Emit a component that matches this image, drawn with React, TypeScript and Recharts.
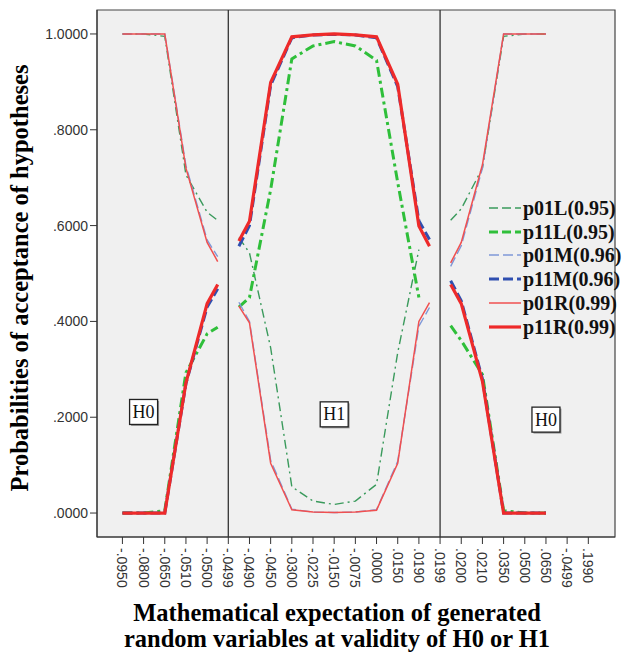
import React from "react";
import {
  LineChart,
  Line,
  XAxis,
  YAxis,
  ReferenceLine,
  ReferenceArea,
  ReferenceDot,
  Label,
} from "recharts";

// Category tick labels of the x axis (index = category position)
const categories = [
  "-.0950", "-.0800", "-.0650", "-.0510", "-.0500", "-.0499", "-.0490", "-.0450",
  "-.0300", "-.0225", "-.0150", "-.0075", ".0000", ".0150", ".0190", ".0199",
  ".0200", ".0210", ".0350", ".0500", ".0650", "-.0499", ".1990",
];

// Category positions of the plotted vertices (half steps are the line ends next to the H0/H1 borders)
const positions = [0, 1, 2, 3, 4, 4.5, 5, 5.5, 6, 7, 8, 9, 10, 11, 12, 13, 14, 14.5, 15, 15.5, 16, 17, 18, 19, 20];

const p01L = [1, 1, 0.995, 0.706, 0.628, 0.611, null, 0.575, 0.543, 0.345, 0.055, 0.025, 0.018, 0.025, 0.06, 0.335, 0.55, null, null, 0.611, 0.635, 0.72, 0.995, 1, 1];
const p11L = [0, 0, 0.005, 0.293, 0.374, 0.388, null, 0.43, 0.45, 0.675, 0.948, 0.975, 0.984, 0.975, 0.945, 0.69, 0.45, null, null, 0.391, 0.36, 0.289, 0.005, 0, 0];
const p01M = [1, 1, 1, 0.725, 0.57, 0.535, null, 0.44, 0.4, 0.11, 0.008, 0.002, 0.001, 0.002, 0.007, 0.108, 0.39, 0.429, null, 0.515, 0.558, 0.72, 1, 1, 1];
const p11M = [0, 0, 0, 0.27, 0.43, 0.468, null, 0.557, 0.6, 0.893, 0.992, 0.998, 0.999, 0.998, 0.992, 0.89, 0.61, 0.571, null, 0.485, 0.443, 0.28, 0, 0, 0];
const p01R = [1, 1, 1, 0.72, 0.565, 0.525, null, 0.432, 0.397, 0.104, 0.007, 0.002, 0.001, 0.002, 0.006, 0.104, 0.4, 0.439, null, 0.522, 0.565, 0.727, 1, 1, 1];
const p11R = [0, 0, 0, 0.272, 0.437, 0.477, null, 0.568, 0.609, 0.899, 0.994, 0.998, 1.0, 0.998, 0.994, 0.895, 0.599, 0.557, null, 0.477, 0.437, 0.275, 0, 0, 0];

const yTicks = [0, 0.2, 0.4, 0.6, 0.8, 1.0];
const borderPositions = [5, 15];
const regionLabels = [
  { text: "H0", x: 1, y: 0.211 },
  { text: "H1", x: 10, y: 0.206 },
  { text: "H0", x: 20, y: 0.195 },
];

const series = [
  { key: "p01L", name: "p01L(0.95)", color: "#3a9a5c", width: 1.4, dash: "9 4 2 4", legendDash: "9 4" },
  { key: "p11L", name: "p11L(0.95)", color: "#2fbf3a", width: 3, dash: "10 4 3 4", legendDash: "9 4" },
  { key: "p01M", name: "p01M(0.96)", color: "#7f98d8", width: 1.4, dash: "10 4", legendDash: "10 4" },
  { key: "p11M", name: "p11M(0.96)", color: "#2f4fb0", width: 3, dash: "10 4", legendDash: "10 4" },
  { key: "p01R", name: "p01R(0.99)", color: "#f05050", width: 1.5, dash: undefined, legendDash: undefined },
  { key: "p11R", name: "p11R(0.99)", color: "#ee2a2a", width: 3.2, dash: undefined, legendDash: undefined },
];

const data = positions.map((x, i) => ({
  x,
  p01L: p01L[i],
  p11L: p11L[i],
  p01M: p01M[i],
  p11M: p11M[i],
  p01R: p01R[i],
  p11R: p11R[i],
}));

const X_MIN = -1.2;
const X_MAX = 23.26;
const Y_MIN = -0.05;
const Y_MAX = 1.05;

const SERIF = "Liberation Serif, Times New Roman, serif";
const SANS = "Liberation Sans, Arial, sans-serif";

const fmtY = (v: number) => (v >= 1 ? v.toFixed(4) : v.toFixed(4).replace(/^0/, ""));

const XTick = (props: any) => {
  const { x, y, payload } = props;
  const label = categories[payload.value];
  return (
    <text
      x={x}
      y={y}
      transform={`rotate(90, ${x}, ${y})`}
      textAnchor="start"
      dominantBaseline="central"
      fontFamily={SANS}
      fontSize={14}
      fill="#333"
    >
      {label}
    </text>
  );
};

const BoxLabel = (text: string) => (props: any) => {
  const { cx, cy } = props;
  if (cx == null || cy == null) return null;
  const w = 28;
  const h = 25;
  return (
    <g>
      <rect x={cx - w / 2 + 1.5} y={cy - h / 2 + 1.5} width={w} height={h} fill="#9a9a9a" />
      <rect x={cx - w / 2} y={cy - h / 2} width={w} height={h} fill="#ffffff" stroke="#222" strokeWidth={1.3} />
      <text x={cx} y={cy + 6} textAnchor="middle" fontFamily={SERIF} fontSize={18} fill="#111">
        {text}
      </text>
    </g>
  );
};

const XTitle = () => (
  <g>
    <text x={337} y={621} textAnchor="middle" fontFamily={SERIF} fontWeight="bold" fontSize={24.5} fill="#000">
      Mathematical expectation of generated
    </text>
    <text x={337} y={647} textAnchor="middle" fontFamily={SERIF} fontWeight="bold" fontSize={24.5} fill="#000">
      random variables at validity of H0 or H1
    </text>
  </g>
);

const YTitle = () => (
  <text
    x={28}
    y={278}
    transform="rotate(-90, 28, 278)"
    textAnchor="middle"
    fontFamily={SERIF}
    fontWeight="bold"
    fontSize={24.5}
    fill="#000"
  >
    Probabilities of acceptance of hypotheses
  </text>
);

const LegendBox = () => (
  <div
    style={{
      position: "absolute",
      left: 487,
      top: 196,
      fontFamily: SERIF,
      fontWeight: "bold",
      fontSize: 20,
      color: "#111",
    }}
  >
    {series.map((s) => (
      <div key={s.key} style={{ display: "flex", alignItems: "center", height: 23.8 }}>
        <svg width={35} height={12} style={{ display: "block" }}>
          <line x1={2} y1={6} x2={34} y2={6} stroke={s.color} strokeWidth={s.width} strokeDasharray={s.legendDash} />
        </svg>
        <span style={{ marginLeft: 1, lineHeight: "20px", whiteSpace: "nowrap" }}>{s.name}</span>
      </div>
    ))}
  </div>
);

export default function App() {
  return (
    <div style={{ position: "absolute", left: 0, top: 0, width: 629, height: 657, background: "#fff" }}>
      <LineChart width={629} height={657} data={data} margin={{ top: 10, right: 14, left: 0, bottom: 0 }}>
        <ReferenceArea
          x1={X_MIN}
          x2={X_MAX}
          y1={Y_MIN}
          y2={Y_MAX}
          fill="#f0f0f0"
          fillOpacity={1}
          stroke="#444"
          strokeWidth={1.2}
          ifOverflow="visible"
        />
        <XAxis
          dataKey="x"
          type="number"
          domain={[X_MIN, X_MAX]}
          ticks={categories.map((_, i) => i)}
          interval={0}
          tick={<XTick />}
          tickSize={7}
          tickMargin={4}
          height={120}
          stroke="#333"
          allowDataOverflow
        >
          <Label content={() => <XTitle />} />
        </XAxis>
        <YAxis
          type="number"
          domain={[Y_MIN, Y_MAX]}
          ticks={yTicks}
          tickFormatter={fmtY}
          width={97}
          tickSize={7}
          tickMargin={2}
          stroke="#333"
          tick={{ fontSize: 14, fill: "#333", fontFamily: SANS }}
          allowDataOverflow
        >
          <Label content={() => <YTitle />} />
        </YAxis>
        {borderPositions.map((b) => (
          <ReferenceLine key={b} x={b} stroke="#333" strokeWidth={1.3} />
        ))}
        {series.map((s) => (
          <Line
            key={s.key}
            dataKey={s.key}
            name={s.name}
            type="linear"
            stroke={s.color}
            strokeWidth={s.width}
            strokeDasharray={s.dash}
            dot={false}
            activeDot={false}
            isAnimationActive={false}
          />
        ))}
        {regionLabels.map((r, i) => (
          <ReferenceDot key={i} x={r.x} y={r.y} r={1} shape={BoxLabel(r.text)} />
        ))}
      </LineChart>
      <LegendBox />
    </div>
  );
}
